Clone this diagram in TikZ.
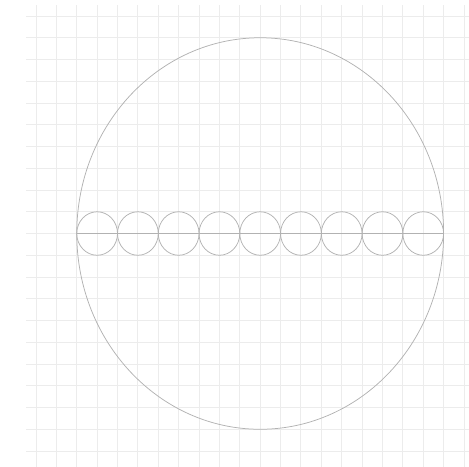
\documentclass[tikz,border=0pt]{standalone}
\usepackage{tikz}
\definecolor{Grid}{HTML}{ECECEC}
\definecolor{Pencil}{HTML}{B2B2B2}

\begin{document}
\begin{tikzpicture}[x=20.38bp,y=-21.75bp, gridline/.style={draw=Grid,line width=0.9bp,xstep=20.38bp,ystep=21.75bp}, pencil/.style={draw=Pencil,line width=0.75bp}]
    \useasboundingbox (-1.766,-0.7356) rectangle (21.246,20.69);
    \clip (-1.766,-0.7356) rectangle (21.246,20.69);
    \draw[gridline] (-0.5,-0.5) grid (21.5,21);
    \draw[pencil] (11,10) circle [x radius=9, y radius=9];
    \foreach \i in {0,...,8}
      \draw[pencil] ({3+2*\i},10) circle [radius=1];
    \draw[pencil] (2,10) -- (20,10);
  \end{tikzpicture}
\end{document}
